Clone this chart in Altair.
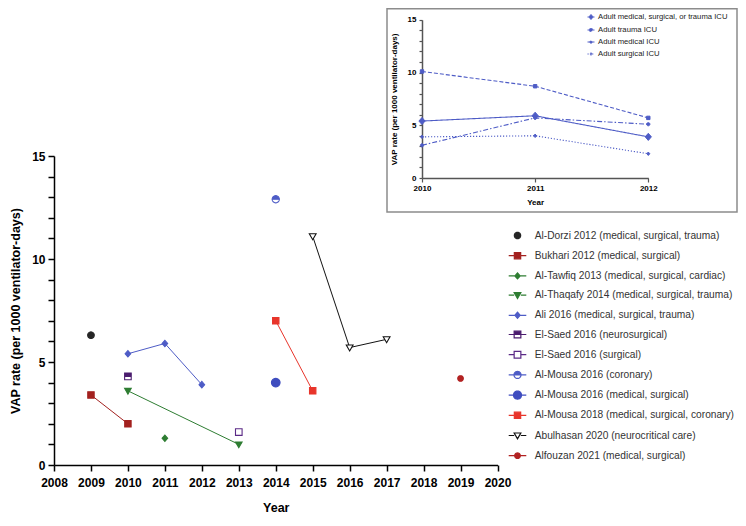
import math
import altair as alt
import pandas as pd

# ------------------------------------------------------------------ data
studies = [
    "Al-Dorzi 2012 (medical, surgical, trauma)",
    "Bukhari 2012 (medical, surgical)",
    "Al-Tawfiq 2013 (medical, surgical, cardiac)",
    "Al-Thaqafy 2014 (medical, surgical, trauma)",
    "Ali 2016 (medical, surgical, trauma)",
    "El-Saed 2016 (neurosurgical)",
    "El-Saed 2016 (surgical)",
    "Al-Mousa 2016 (coronary)",
    "Al-Mousa 2016 (medical, surgical)",
    "Al-Mousa 2018 (medical, surgical, coronary)",
    "Abulhasan 2020 (neurocritical care)",
    "Alfouzan 2021 (medical, surgical)",
]
study_years = [
    [2009], [2009, 2010], [2011], [2010, 2013], [2010, 2011, 2012], [2010],
    [2013], [2014], [2014], [2014, 2015], [2015, 2016, 2017], [2019],
]
study_rates = [
    [6.3], [3.4, 2.0], [1.3], [3.6, 1.0], [5.4, 5.9, 3.9], [4.3],
    [1.6], [12.9], [4.0], [7.0, 3.6], [11.1, 5.7, 6.1], [4.2],
]
study_colors = ["#262626", "#A3211F", "#2E7D32", "#2E7D32", "#4E5CC6", "#4B1C6E",
                "#5B2A86", "#4E5CC6", "#3F4DBF", "#E8352B", "#111111", "#B22222"]
study_fills = ["#262626", "#A3211F", "#2E7D32", "#2E7D32", "#4E5CC6", "#4B1C6E",
               "#FFFFFF", "#4E5CC6", "#3F4DBF", "#E8352B", "#FFFFFF", "#B22222"]
study_marker = ["circle", "square", "diamond", "tri", "diamond", "halfsquare",
                "square", "halfcircle", "circle", "square", "tri", "circle"]

inset_series = ["Adult medical, surgical, or trauma ICU", "Adult trauma ICU",
                "Adult medical ICU", "Adult surgical ICU"]
inset_years = [2010, 2011, 2012]
inset_combined = [5.4, 5.9, 3.9]
inset_trauma = [10.1, 8.7, 5.7]
inset_medical = [3.1, 5.7, 5.1]
inset_surgical = [3.9, 4.0, 2.3]

# ------------------------------------------------------------------ marker paths
def f(v):
    return f"{v:.3f}"

def poly(pts):
    return "M" + " L".join(f"{f(x)},{f(y)}" for x, y in pts) + " Z"

def arc(r, a0, a1, n):
    return [(r * math.cos(a0 + (a1 - a0) * k / n), r * math.sin(a0 + (a1 - a0) * k / n))
            for k in range(n + 1)]

def marker(kind, h):
    if kind == "circle":
        return poly(arc(h, 0, 2 * math.pi, 24)[:-1])
    if kind == "square":
        return poly([(-h, -h), (h, -h), (h, h), (-h, h)])
    if kind == "diamond":
        return poly([(0, -h * 1.15), (h, 0), (0, h * 1.15), (-h, 0)])
    if kind == "tri":
        return poly([(-h, -h * 0.75), (h, -h * 0.75), (0, h)])
    if kind == "halfsquare":
        top = poly([(-h, -h), (h, -h), (h, 0), (-h, 0)])
        bot = [(-h, 0), (-h, h), (h, h), (h, 0)]
        back = bot[::-1][1:]
        return top + " " + poly(bot + back)
    if kind == "halfcircle":
        top = poly(arc(h, math.pi, 2 * math.pi, 12))
        bot = arc(h, 0, math.pi, 12)
        return top + " " + poly(bot + bot[::-1][1:])
    return ""

def with_line(path, h):
    return f"M-1,0 L{f(-h)},0 M{f(h)},0 L1,0 " + path

plot_half = [0.66, 0.64, 0.56, 0.66, 0.56, 0.66, 0.66, 0.72, 0.86, 0.64, 0.68, 0.56]
leg_half = [0.36, 0.36, 0.30, 0.38, 0.30, 0.38, 0.38, 0.40, 0.46, 0.36, 0.38, 0.32]
plot_paths = [marker(k, h) for k, h in zip(study_marker, plot_half)]
leg_paths = [marker(k, h) if i == 0 else with_line(marker(k, h), h)
             for i, (k, h) in enumerate(zip(study_marker, leg_half))]

inset_marker = ["diamond", "square", "circle", "diamond"]
inset_plot_half = [0.62, 0.34, 0.32, 0.3]
inset_leg_half = [0.62, 0.36, 0.34, 0.32]
inset_plot_paths = [marker(k, h) for k, h in zip(inset_marker, inset_plot_half)]
inset_leg_paths = [with_line(marker(k, h), h) for k, h in zip(inset_marker, inset_leg_half)]
inset_dash = [[1, 0], [4, 2], [5, 2, 1.5, 2], [1.2, 1.8]]
BLUE = "#4E5CC6"

rows = []
for s, ys, rs in zip(studies, study_years, study_rates):
    for y, r in zip(ys, rs):
        rows.append({"study": s, "year": y, "rate": r})
main_df = pd.DataFrame(rows)

irows = []
for s, vals in zip(inset_series, [inset_combined, inset_trauma, inset_medical, inset_surgical]):
    for y, v in zip(inset_years, vals):
        irows.append({"series": s, "iyear": y, "irate": v})
inset_df = pd.DataFrame(irows)

FONT = "Liberation Sans"

# ------------------------------------------------------------------ main chart
x_axis = alt.Axis(values=list(range(2008, 2021)), format="d", labelFlush=False, labelOverlap=False,
                  labelFont=FONT, labelFontWeight="bold", labelFontSize=12, labelColor="black",
                  tickSize=6, tickWidth=1.5, tickColor="black", domainColor="black", domainWidth=1.5,
                  labelPadding=6, title="Year", titleFont=FONT, titleFontSize=12.5,
                  titleFontWeight="bold", titleColor="black", titlePadding=13, grid=False)
y_axis = alt.Axis(values=list(range(0, 16)), labelExpr="datum.value % 5 === 0 ? datum.label : ''",
                  labelFlush=False, labelOverlap=False, labelFont=FONT, labelFontWeight="bold",
                  labelFontSize=12, labelColor="black", tickSize=6, tickWidth=1.5, tickColor="black",
                  domainColor="black", domainWidth=1.5, labelPadding=3,
                  title="VAP rate (per 1000 ventilator-days)", titleFont=FONT, titleFontSize=12.5,
                  titleFontWeight="bold", titleColor="black", titlePadding=9, grid=False)
xm = alt.X("year:Q", scale=alt.Scale(domain=[2008, 2020], range=[0, 443.5], nice=False, zero=False),
           axis=x_axis)
ym = alt.Y("rate:Q", scale=alt.Scale(domain=[0, 15], range=[457, 148], nice=False), axis=y_axis)

base = alt.Chart(main_df)
lines = base.mark_line(strokeWidth=1).encode(
    x=xm, y=ym,
    color=alt.Color("study:N", scale=alt.Scale(domain=studies, range=study_colors), legend=None),
)
points = base.mark_point(opacity=1, size=100, strokeWidth=1.1, filled=True).encode(
    x=xm, y=ym,
    shape=alt.Shape("study:N", scale=alt.Scale(domain=studies, range=plot_paths), legend=None),
    fill=alt.Fill("study:N", scale=alt.Scale(domain=studies, range=study_fills), legend=None),
    stroke=alt.Stroke("study:N", scale=alt.Scale(domain=studies, range=study_colors), legend=None),
)
LEG = alt.Legend(orient="none", legendX=454, legendY=218, title=None, labelFont=FONT,
                 labelFontSize=10.2, labelColor="#333333", symbolSize=310, symbolStrokeWidth=1.2,
                 symbolFillColor="white", labelOffset=7.7, rowPadding=4.2, labelLimit=400)
legend_layer = base.mark_point(opacity=0, size=100, filled=True).encode(
    x=xm, y=ym,
    shape=alt.Shape("study:N", scale=alt.Scale(domain=studies, range=leg_paths), legend=LEG),
    fill=alt.Fill("study:N", scale=alt.Scale(domain=studies, range=study_fills), legend=LEG),
    stroke=alt.Stroke("study:N", scale=alt.Scale(domain=studies, range=study_colors), legend=LEG),
)
main = alt.layer(lines, points, legend_layer).resolve_scale(
    shape="independent", fill="independent", stroke="independent")

# ------------------------------------------------------------------ inset chart
ix_axis = alt.Axis(values=inset_years, labelExpr="format(datum.value, 'd')", labelFlush=False,
                   labelOverlap=False, labelBound=False, labelSeparation=0,
                   orient="bottom", offset=-287,
                   labelFont=FONT, labelFontWeight="bold", labelFontSize=8, labelColor="black",
                   tickSize=4, tickWidth=1.2, tickColor="#555555", domainColor="#555555",
                   domainWidth=1.5, labelPadding=2, title="Year", titleFont=FONT, titleFontSize=8,
                   titleFontWeight="bold", titleColor="black", titlePadding=6, grid=False)
iy_axis = alt.Axis(values=list(range(0, 16)), labelExpr="datum.value % 5 === 0 ? datum.label : ''",
                   labelFlush=False, labelOverlap=False, orient="left", offset=-368, labelFont=FONT,
                   labelFontWeight="bold", labelFontSize=8, labelColor="black", tickSize=3,
                   tickWidth=1.2, tickColor="#555555", domainColor="#555555", domainWidth=1.5,
                   labelPadding=3, title="VAP rate (per 1000 ventilator-days)", titleFont=FONT,
                   titleFontSize=8, titleFontWeight="bold", titleColor="black", titlePadding=9,
                   grid=False)
xi = alt.X("iyear:Q", scale=alt.Scale(domain=[2010, 2012], range=[368, 594.3], nice=False, zero=False),
           axis=ix_axis)
yi = alt.Y("irate:Q", scale=alt.Scale(domain=[0, 15], range=[170, 11.8], nice=False), axis=iy_axis)

ibase = alt.Chart(inset_df)
ilines = ibase.mark_line(strokeWidth=1.1, color=BLUE).encode(
    x=xi, y=yi,
    strokeDash=alt.StrokeDash("series:N", scale=alt.Scale(domain=inset_series, range=inset_dash),
                              legend=None),
)
ipoints = ibase.mark_point(opacity=1, size=100, filled=True, fill=BLUE, stroke=BLUE,
                           strokeWidth=1).encode(
    x=xi, y=yi,
    shape=alt.Shape("series:N", scale=alt.Scale(domain=inset_series, range=inset_plot_paths),
                    legend=None),
)
ILEG = alt.Legend(orient="none", legendX=533, legendY=5, title=None, labelFont=FONT,
                  labelFontSize=7.7, labelColor="#222222", symbolSize=49, symbolStrokeWidth=1,
                  labelOffset=3, rowPadding=4, labelLimit=300)
ilegend = ibase.mark_point(opacity=0, size=100, filled=True, fill=BLUE, stroke=BLUE).encode(
    x=xi, y=yi,
    shape=alt.Shape("series:N", scale=alt.Scale(domain=inset_series, range=inset_leg_paths),
                    legend=ILEG),
    strokeDash=alt.StrokeDash("series:N", scale=alt.Scale(domain=inset_series, range=inset_dash),
                              legend=ILEG),
)
inset = alt.layer(ilines, ipoints, ilegend).resolve_scale(shape="independent",
                                                          strokeDash="independent")

frame = alt.Chart(pd.DataFrame({"k": [0]})).mark_rect(
    fillOpacity=0, stroke="#8c8c8c", strokeWidth=1.5).encode(
    x=alt.value(333), x2=alt.value(683), y=alt.value(0.8), y2=alt.value(204))

chart = alt.layer(main, inset, frame).resolve_scale(
    x="independent", y="independent", shape="independent", fill="independent",
    stroke="independent", color="independent", strokeDash="independent",
).resolve_axis(x="independent", y="independent").properties(
    width=684, height=457,
    autosize=alt.AutoSizeParams(type="none"),
    padding={"left": 46, "top": 0, "right": 0, "bottom": 53},
).configure_view(stroke="transparent")

chart.save("out.html", embed_options={"renderer": "svg", "actions": False})
